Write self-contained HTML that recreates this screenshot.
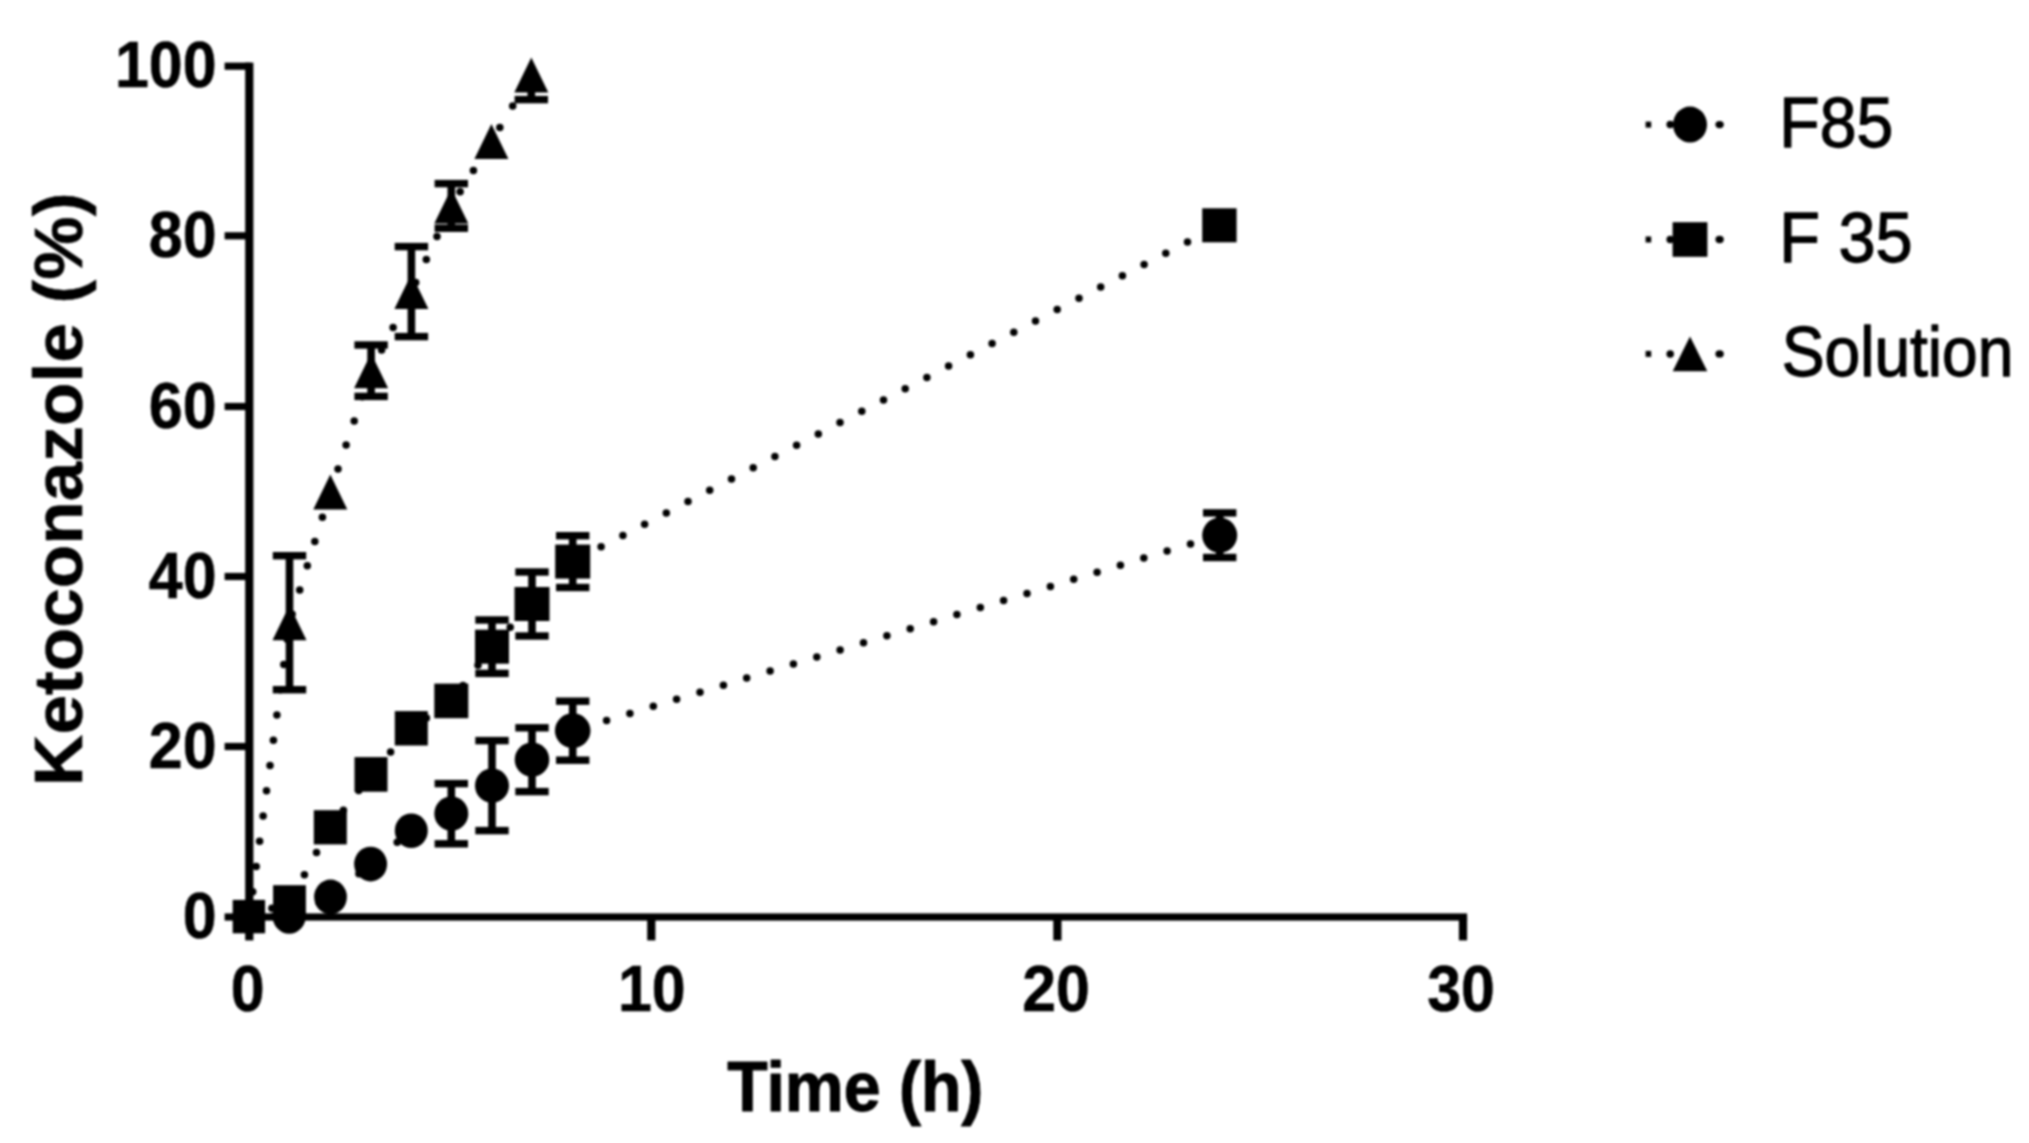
<!DOCTYPE html>
<html lang="en"><head><meta charset="utf-8"><title>Ketoconazole release profile</title>
<style>html,body{margin:0;padding:0;background:#fff}body{width:2029px;height:1143px;overflow:hidden}</style>
</head><body>
<svg width="2029" height="1143" viewBox="0 0 2029 1143" style="display:block;filter:blur(1.2px)">
<rect width="2029" height="1143" fill="#fff"/>
<g fill="#000" stroke="none">
<rect x="245.2" y="62.6" width="8.2" height="877.8"/>
<rect x="224.6" y="913.4" width="1242.5" height="7.2"/>
<rect x="224.6" y="62.6" width="26" height="7.2"/>
<rect x="224.6" y="232.2" width="26" height="7.2"/>
<rect x="224.6" y="402.9" width="26" height="7.2"/>
<rect x="224.6" y="572.9" width="26" height="7.2"/>
<rect x="224.6" y="742.9" width="26" height="7.2"/>
<rect x="647.2" y="917.0" width="8.2" height="23.4"/>
<rect x="1053.3" y="917.0" width="8.2" height="23.4"/>
<rect x="1458.9" y="917.0" width="8.2" height="23.4"/>
<circle cx="252.7" cy="891.7" r="3.75"/>
<circle cx="256.2" cy="866.5" r="3.75"/>
<circle cx="259.6" cy="841.2" r="3.75"/>
<circle cx="263.1" cy="816.0" r="3.75"/>
<circle cx="266.5" cy="790.7" r="3.75"/>
<circle cx="270.0" cy="765.5" r="3.75"/>
<circle cx="273.4" cy="740.2" r="3.75"/>
<circle cx="276.9" cy="714.9" r="3.75"/>
<circle cx="280.3" cy="689.7" r="3.75"/>
<circle cx="283.8" cy="664.4" r="3.75"/>
<circle cx="287.2" cy="639.2" r="3.75"/>
<circle cx="292.1" cy="614.3" r="3.75"/>
<circle cx="299.7" cy="590.0" r="3.75"/>
<circle cx="307.3" cy="565.8" r="3.75"/>
<circle cx="314.8" cy="541.5" r="3.75"/>
<circle cx="322.4" cy="517.3" r="3.75"/>
<circle cx="330.0" cy="493.0" r="3.75"/>
<circle cx="338.0" cy="469.0" r="3.75"/>
<circle cx="346.1" cy="444.9" r="3.75"/>
<circle cx="354.2" cy="420.9" r="3.75"/>
<circle cx="362.3" cy="396.8" r="3.75"/>
<circle cx="370.4" cy="372.7" r="3.75"/>
<circle cx="381.6" cy="350.1" r="3.75"/>
<circle cx="393.1" cy="327.6" r="3.75"/>
<circle cx="404.5" cy="305.1" r="3.75"/>
<circle cx="415.7" cy="282.4" r="3.75"/>
<circle cx="426.3" cy="259.5" r="3.75"/>
<circle cx="437.0" cy="236.6" r="3.75"/>
<circle cx="447.7" cy="213.7" r="3.75"/>
<circle cx="460.1" cy="191.8" r="3.75"/>
<circle cx="473.4" cy="170.4" r="3.75"/>
<circle cx="486.7" cy="149.1" r="3.75"/>
<circle cx="499.8" cy="127.6" r="3.75"/>
<circle cx="512.7" cy="106.0" r="3.75"/>
<circle cx="525.7" cy="84.4" r="3.75"/>
<circle cx="271.9" cy="908.3" r="3.75"/>
<circle cx="292.3" cy="896.8" r="3.75"/>
<circle cx="304.4" cy="874.7" r="3.75"/>
<circle cx="316.5" cy="852.6" r="3.75"/>
<circle cx="328.6" cy="830.4" r="3.75"/>
<circle cx="343.4" cy="810.3" r="3.75"/>
<circle cx="358.7" cy="790.4" r="3.75"/>
<circle cx="374.2" cy="770.8" r="3.75"/>
<circle cx="390.6" cy="752.0" r="3.75"/>
<circle cx="407.0" cy="733.2" r="3.75"/>
<circle cx="426.4" cy="718.0" r="3.75"/>
<circle cx="446.7" cy="704.0" r="3.75"/>
<circle cx="463.0" cy="685.4" r="3.75"/>
<circle cx="478.0" cy="665.3" r="3.75"/>
<circle cx="493.2" cy="645.4" r="3.75"/>
<circle cx="510.2" cy="627.2" r="3.75"/>
<circle cx="527.3" cy="609.0" r="3.75"/>
<circle cx="544.5" cy="591.0" r="3.75"/>
<circle cx="561.7" cy="573.0" r="3.75"/>
<circle cx="1187.5" cy="241.9" r="3.75"/>
<circle cx="1165.8" cy="253.2" r="3.75"/>
<circle cx="1144.1" cy="264.5" r="3.75"/>
<circle cx="1122.4" cy="275.7" r="3.75"/>
<circle cx="1100.7" cy="287.0" r="3.75"/>
<circle cx="1079.0" cy="298.3" r="3.75"/>
<circle cx="1057.2" cy="309.6" r="3.75"/>
<circle cx="1035.5" cy="320.9" r="3.75"/>
<circle cx="1013.8" cy="332.2" r="3.75"/>
<circle cx="992.1" cy="343.5" r="3.75"/>
<circle cx="970.4" cy="354.8" r="3.75"/>
<circle cx="948.6" cy="366.1" r="3.75"/>
<circle cx="926.9" cy="377.4" r="3.75"/>
<circle cx="905.2" cy="388.7" r="3.75"/>
<circle cx="883.5" cy="400.0" r="3.75"/>
<circle cx="861.8" cy="411.3" r="3.75"/>
<circle cx="840.0" cy="422.6" r="3.75"/>
<circle cx="818.3" cy="433.9" r="3.75"/>
<circle cx="796.6" cy="445.2" r="3.75"/>
<circle cx="774.9" cy="456.5" r="3.75"/>
<circle cx="753.2" cy="467.7" r="3.75"/>
<circle cx="731.5" cy="479.0" r="3.75"/>
<circle cx="709.7" cy="490.3" r="3.75"/>
<circle cx="688.0" cy="501.6" r="3.75"/>
<circle cx="666.3" cy="512.9" r="3.75"/>
<circle cx="644.6" cy="524.2" r="3.75"/>
<circle cx="622.9" cy="535.5" r="3.75"/>
<circle cx="601.1" cy="546.8" r="3.75"/>
<circle cx="579.4" cy="558.1" r="3.75"/>
<circle cx="273.2" cy="916.4" r="3.75"/>
<circle cx="296.8" cy="912.8" r="3.75"/>
<circle cx="319.0" cy="902.4" r="3.75"/>
<circle cx="339.7" cy="889.4" r="3.75"/>
<circle cx="358.9" cy="873.7" r="3.75"/>
<circle cx="378.0" cy="858.0" r="3.75"/>
<circle cx="397.2" cy="842.3" r="3.75"/>
<circle cx="417.2" cy="828.2" r="3.75"/>
<circle cx="439.7" cy="818.6" r="3.75"/>
<circle cx="461.2" cy="806.9" r="3.75"/>
<circle cx="481.5" cy="792.9" r="3.75"/>
<circle cx="501.9" cy="779.2" r="3.75"/>
<circle cx="522.6" cy="765.8" r="3.75"/>
<circle cx="543.0" cy="751.9" r="3.75"/>
<circle cx="563.1" cy="737.5" r="3.75"/>
<circle cx="1190.5" cy="544.0" r="3.75"/>
<circle cx="1167.1" cy="551.1" r="3.75"/>
<circle cx="1143.8" cy="558.1" r="3.75"/>
<circle cx="1120.4" cy="565.2" r="3.75"/>
<circle cx="1097.1" cy="572.3" r="3.75"/>
<circle cx="1073.7" cy="579.3" r="3.75"/>
<circle cx="1050.4" cy="586.4" r="3.75"/>
<circle cx="1027.0" cy="593.4" r="3.75"/>
<circle cx="1003.6" cy="600.5" r="3.75"/>
<circle cx="980.3" cy="607.5" r="3.75"/>
<circle cx="956.9" cy="614.6" r="3.75"/>
<circle cx="933.6" cy="621.7" r="3.75"/>
<circle cx="910.2" cy="628.7" r="3.75"/>
<circle cx="886.9" cy="635.8" r="3.75"/>
<circle cx="863.5" cy="642.8" r="3.75"/>
<circle cx="840.1" cy="649.9" r="3.75"/>
<circle cx="816.8" cy="656.9" r="3.75"/>
<circle cx="793.4" cy="664.0" r="3.75"/>
<circle cx="770.1" cy="671.1" r="3.75"/>
<circle cx="746.7" cy="678.1" r="3.75"/>
<circle cx="723.4" cy="685.2" r="3.75"/>
<circle cx="700.0" cy="692.2" r="3.75"/>
<circle cx="676.6" cy="699.3" r="3.75"/>
<circle cx="653.3" cy="706.3" r="3.75"/>
<circle cx="629.9" cy="713.4" r="3.75"/>
<circle cx="606.6" cy="720.5" r="3.75"/>
<circle cx="583.2" cy="727.5" r="3.75"/>
<rect x="285.7" y="555.7" width="7.6" height="134.0"/>
<rect x="272.8" y="552.0" width="33.4" height="7.4"/>
<rect x="272.8" y="686.0" width="33.4" height="7.4"/>
<rect x="367.3" y="345.0" width="7.6" height="51.4"/>
<rect x="354.4" y="341.3" width="33.4" height="7.4"/>
<rect x="354.4" y="392.7" width="33.4" height="7.4"/>
<rect x="407.6" y="246.6" width="7.6" height="90.0"/>
<rect x="394.7" y="242.9" width="33.4" height="7.4"/>
<rect x="394.7" y="332.9" width="33.4" height="7.4"/>
<rect x="447.5" y="183.6" width="7.6" height="44.6"/>
<rect x="434.6" y="179.9" width="33.4" height="7.4"/>
<rect x="434.6" y="224.5" width="33.4" height="7.4"/>
<rect x="527.5" y="75.0" width="7.6" height="24.6"/>
<rect x="514.6" y="95.9" width="33.4" height="7.4"/>
<rect x="488.2" y="620.0" width="7.6" height="53.4"/>
<rect x="475.3" y="616.3" width="33.4" height="7.4"/>
<rect x="475.3" y="669.7" width="33.4" height="7.4"/>
<rect x="528.2" y="572.0" width="7.6" height="64.0"/>
<rect x="515.3" y="568.3" width="33.4" height="7.4"/>
<rect x="515.3" y="632.3" width="33.4" height="7.4"/>
<rect x="568.9" y="535.7" width="7.6" height="51.8"/>
<rect x="556.0" y="532.0" width="33.4" height="7.4"/>
<rect x="556.0" y="583.8" width="33.4" height="7.4"/>
<rect x="447.5" y="783.6" width="7.6" height="60.2"/>
<rect x="434.6" y="779.9" width="33.4" height="7.4"/>
<rect x="434.6" y="840.1" width="33.4" height="7.4"/>
<rect x="488.2" y="740.6" width="7.6" height="90.0"/>
<rect x="475.3" y="736.9" width="33.4" height="7.4"/>
<rect x="475.3" y="826.9" width="33.4" height="7.4"/>
<rect x="528.2" y="727.8" width="7.6" height="63.8"/>
<rect x="515.3" y="724.1" width="33.4" height="7.4"/>
<rect x="515.3" y="787.9" width="33.4" height="7.4"/>
<rect x="568.9" y="701.2" width="7.6" height="59.0"/>
<rect x="556.0" y="697.5" width="33.4" height="7.4"/>
<rect x="556.0" y="756.5" width="33.4" height="7.4"/>
<rect x="1215.9" y="512.9" width="7.6" height="44.6"/>
<rect x="1203.0" y="509.2" width="33.4" height="7.4"/>
<rect x="1203.0" y="553.8" width="33.4" height="7.4"/>
<path d="M289.5 605.2L306.5 640.2H272.5Z"/>
<path d="M330.3 474.5L347.3 509.5H313.3Z"/>
<path d="M371.1 353.2L388.1 388.2H354.1Z"/>
<path d="M411.4 274.1L428.4 309.1H394.4Z"/>
<path d="M451.3 188.4L468.3 223.4H434.3Z"/>
<path d="M491.4 124.0L508.4 159.0H474.4Z"/>
<path d="M531.3 57.5L548.3 92.5H514.3Z"/>
<rect x="232.7" y="899.9" width="32.4" height="33.4"/>
<rect x="273.1" y="885.2" width="32.8" height="33.6"/>
<rect x="313.8" y="810.2" width="33.0" height="34.2"/>
<rect x="354.5" y="757.1" width="33.0" height="34.6"/>
<rect x="394.8" y="711.1" width="33.0" height="34.4"/>
<rect x="434.3" y="683.6" width="34.0" height="34.6"/>
<rect x="475.0" y="629.7" width="34.0" height="34.0"/>
<rect x="514.5" y="587.0" width="35.0" height="34.0"/>
<rect x="555.2" y="544.6" width="35.0" height="34.0"/>
<rect x="1202.2" y="208.3" width="34.4" height="34.0"/>
<ellipse cx="248.9" cy="916.6" rx="16.4" ry="17"/>
<ellipse cx="289.2" cy="916.3" rx="16.6" ry="17.4"/>
<ellipse cx="330.5" cy="897.0" rx="16.4" ry="17.4"/>
<ellipse cx="370.6" cy="864.1" rx="16.5" ry="17.3"/>
<ellipse cx="411.3" cy="830.7" rx="16.5" ry="17.3"/>
<ellipse cx="451.3" cy="813.7" rx="17.0" ry="17.2"/>
<ellipse cx="492.0" cy="785.6" rx="17.0" ry="17.2"/>
<ellipse cx="532.0" cy="759.7" rx="17.3" ry="17.2"/>
<ellipse cx="572.7" cy="730.7" rx="17.8" ry="17.4"/>
<ellipse cx="1219.7" cy="535.2" rx="17.5" ry="17.6"/>
<rect x="1645.6" y="121.6" width="5.6" height="6.0"/>
<circle cx="1670.2" cy="124.6" r="3.75"/>
<ellipse cx="1719.6" cy="124.6" rx="4.2" ry="3.7"/>
<ellipse cx="1690.0" cy="124.6" rx="17" ry="18"/>
<rect x="1645.6" y="236.5" width="5.6" height="6.0"/>
<circle cx="1670.2" cy="239.5" r="3.75"/>
<ellipse cx="1719.6" cy="239.5" rx="4.2" ry="3.7"/>
<rect x="1672.6" y="222.2" width="34.8" height="34.6"/>
<rect x="1645.6" y="350.9" width="5.6" height="6.0"/>
<circle cx="1670.2" cy="353.9" r="3.75"/>
<ellipse cx="1719.6" cy="353.9" rx="4.2" ry="3.7"/>
<path d="M1690.0 336.4L1707.3 371.2H1672.7Z"/>
</g>
<g fill="#000" stroke="#000" stroke-width="0.5" stroke-linejoin="round" font-family="'Liberation Sans', sans-serif">
<g font-weight="bold" font-size="60.9" text-anchor="end">
<text transform="translate(216.5 87.1) scale(1 1.055)">100</text>
<text transform="translate(216.5 256.9) scale(1 1.055)">80</text>
<text transform="translate(216.5 427.6) scale(1 1.055)">60</text>
<text transform="translate(216.5 597.6) scale(1 1.055)">40</text>
<text transform="translate(216.5 767.6) scale(1 1.055)">20</text>
<text transform="translate(216.5 938.1) scale(1 1.055)">0</text>
</g>
<g font-weight="bold" font-size="60.9" text-anchor="middle">
<text transform="translate(247.7 1010.5) scale(1 1.055)">0</text>
<text transform="translate(651.8 1010.5) scale(1 1.055)">10</text>
<text transform="translate(1056.0 1010.5) scale(1 1.055)">20</text>
<text transform="translate(1461.0 1010.5) scale(1 1.055)">30</text>
</g>
<text font-weight="bold" font-size="66.2" stroke-width="1.0" transform="translate(727.2 1110.7) scale(1 1.07)">Time (h)</text>
<text font-weight="bold" font-size="71.2" transform="translate(82.4 786.0) rotate(-90) scale(1 0.95)">Ketoconazole (%)</text>
<text font-size="66.1" stroke-width="1.2" transform="translate(1779.3 147.3) scale(1 1.065)">F85</text>
<text font-size="66.7" stroke-width="1.2" transform="translate(1779.2 261.7) scale(1 1.055)">F 35</text>
<text font-size="64.1" stroke-width="1.2" transform="translate(1781.8 375.9) scale(1 1.098)">Solution</text>
</g>
</svg>
</body></html>
